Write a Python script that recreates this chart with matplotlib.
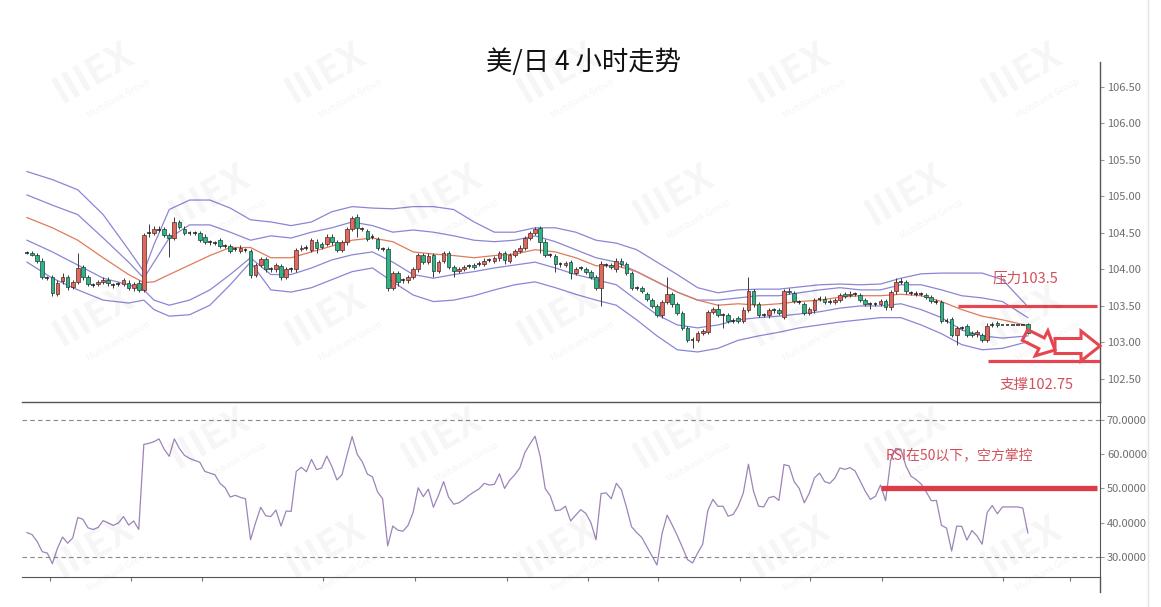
import numpy as np
import matplotlib.pyplot as plt
from matplotlib.patches import FancyArrow
from matplotlib.transforms import Affine2D

plt.rcParams['font.family'] = ['Noto Sans CJK SC', 'DejaVu Sans']

# 美/日 4小时 K线 (开, 收, 高, 低)
opens = [104.23, 104.22, 104.20, 104.12, 103.88, 103.90, 103.66, 103.84, 103.90, 103.76,
         103.83, 104.03, 103.90, 103.79, 103.80, 103.83, 103.86, 103.79, 103.80, 103.80,
         103.82, 103.74, 103.82, 103.72, 104.50, 104.50, 104.54, 104.55, 104.47, 104.43,
         104.65, 104.56, 104.50, 104.50, 104.50, 104.45, 104.37, 104.36, 104.40, 104.32,
         104.32, 104.28, 104.25, 104.27, 104.25, 103.92, 104.06, 104.14, 104.00, 104.00,
         104.05, 103.90, 104.00, 104.00, 104.28, 104.30, 104.27, 104.38, 104.35, 104.35,
         104.45, 104.37, 104.27, 104.37, 104.55, 104.72, 104.55, 104.53, 104.45, 104.42,
         104.28, 104.28, 103.75, 103.95, 103.85, 103.85, 103.90, 104.00, 104.20, 104.10,
         104.20, 103.98, 104.12, 104.22, 104.03, 103.98, 104.01, 104.05, 104.06, 104.08,
         104.08, 104.13, 104.12, 104.15, 104.22, 104.12, 104.20, 104.25, 104.30, 104.43,
         104.50, 104.57, 104.38, 104.20, 104.18, 104.07, 104.06, 104.10, 103.95, 104.02,
         104.00, 103.96, 103.90, 103.75, 104.06, 104.06, 104.00, 104.12, 104.07, 103.95,
         103.75, 103.74, 103.66, 103.58, 103.50, 103.37, 103.55, 103.66, 103.52, 103.40,
         103.20, 103.04, 103.04, 103.13, 103.15, 103.42, 103.46, 103.38, 103.38, 103.30,
         103.33, 103.30, 103.45, 103.70, 103.52, 103.38, 103.37, 103.44, 103.44, 103.35,
         103.71, 103.68, 103.55, 103.53, 103.40, 103.44, 103.60, 103.60, 103.56, 103.56,
         103.58, 103.66, 103.65, 103.66, 103.65, 103.58, 103.52, 103.53, 103.53, 103.57,
         103.48, 103.70, 103.83, 103.83, 103.68, 103.67, 103.66, 103.65, 103.62, 103.56,
         103.55, 103.30, 103.32, 103.10, 103.20, 103.22, 103.13, 103.11, 103.10, 103.03,
         103.24, 103.26, 103.24, 103.24, 103.24, 103.24, 103.24, 103.25]
closes = [104.23, 104.20, 104.12, 103.90, 103.88, 103.68, 103.82, 103.90, 103.76, 103.83,
          104.02, 103.90, 103.80, 103.79, 103.83, 103.86, 103.81, 103.79, 103.80, 103.85,
          103.75, 103.80, 103.72, 104.47, 104.50, 104.55, 104.54, 104.47, 104.43, 104.65,
          104.58, 104.50, 104.50, 104.50, 104.40, 104.38, 104.37, 104.36, 104.32, 104.32,
          104.25, 104.28, 104.30, 104.27, 103.92, 104.06, 104.14, 104.00, 104.00, 104.06,
          103.90, 104.00, 104.00, 104.27, 104.30, 104.30, 104.40, 104.30, 104.31, 104.45,
          104.37, 104.27, 104.37, 104.55, 104.70, 104.57, 104.55, 104.42, 104.45, 104.30,
          104.28, 103.75, 103.95, 103.83, 103.85, 103.90, 104.00, 104.20, 104.10, 104.19,
          103.98, 104.10, 104.22, 104.03, 103.98, 104.01, 104.03, 104.05, 104.04, 104.08,
          104.12, 104.13, 104.16, 104.22, 104.13, 104.20, 104.25, 104.30, 104.43, 104.50,
          104.55, 104.38, 104.20, 104.20, 104.07, 104.07, 104.09, 103.95, 104.00, 104.02,
          103.97, 103.90, 103.75, 104.08, 104.06, 104.03, 104.12, 104.07, 103.95, 103.75,
          103.75, 103.71, 103.60, 103.50, 103.38, 103.55, 103.66, 103.52, 103.40, 103.20,
          103.04, 103.04, 103.13, 103.16, 103.42, 103.46, 103.38, 103.38, 103.30, 103.30,
          103.30, 103.45, 103.70, 103.52, 103.38, 103.38, 103.44, 103.44, 103.41, 103.70,
          103.69, 103.57, 103.55, 103.40, 103.46, 103.58, 103.60, 103.55, 103.56, 103.58,
          103.65, 103.64, 103.67, 103.66, 103.58, 103.53, 103.52, 103.53, 103.57, 103.49,
          103.69, 103.83, 103.83, 103.70, 103.68, 103.67, 103.66, 103.62, 103.57, 103.56,
          103.30, 103.30, 103.10, 103.20, 103.20, 103.10, 103.10, 103.14, 103.03, 103.22,
          103.24, 103.24, 103.24, 103.24, 103.24, 103.24, 103.24, 103.13]
highs = [104.25, 104.25, 104.23, 104.15, 103.91, 103.93, 103.86, 103.95, 103.93, 103.86,
         104.23, 104.06, 103.93, 103.82, 103.86, 103.89, 103.89, 103.82, 103.83, 103.88,
         103.85, 103.83, 103.85, 104.50, 104.62, 104.59, 104.60, 104.58, 104.50, 104.72,
         104.68, 104.59, 104.53, 104.53, 104.53, 104.48, 104.40, 104.39, 104.43, 104.35,
         104.35, 104.31, 104.33, 104.30, 104.28, 104.09, 104.17, 104.17, 104.03, 104.09,
         104.08, 104.03, 104.03, 104.30, 104.33, 104.33, 104.43, 104.41, 104.38, 104.48,
         104.48, 104.40, 104.40, 104.58, 104.73, 104.76, 104.58, 104.56, 104.48, 104.45,
         104.31, 104.31, 103.98, 103.98, 103.88, 103.93, 104.03, 104.23, 104.23, 104.22,
         104.23, 104.13, 104.25, 104.25, 104.06, 104.04, 104.06, 104.08, 104.09, 104.11,
         104.15, 104.16, 104.19, 104.25, 104.25, 104.23, 104.28, 104.33, 104.46, 104.53,
         104.58, 104.60, 104.41, 104.23, 104.21, 104.10, 104.12, 104.13, 104.03, 104.05,
         104.03, 103.99, 103.93, 104.11, 104.09, 104.09, 104.15, 104.15, 104.10, 103.98,
         103.78, 103.77, 103.69, 103.61, 103.53, 103.58, 103.90, 103.69, 103.55, 103.43,
         103.23, 103.07, 103.16, 103.19, 103.45, 103.49, 103.53, 103.41, 103.41, 103.33,
         103.36, 103.48, 103.90, 103.73, 103.55, 103.41, 103.47, 103.47, 103.47, 103.73,
         103.74, 103.71, 103.58, 103.56, 103.49, 103.61, 103.63, 103.63, 103.59, 103.61,
         103.68, 103.69, 103.70, 103.69, 103.68, 103.61, 103.55, 103.56, 103.60, 103.60,
         103.72, 103.88, 103.88, 103.86, 103.71, 103.70, 103.69, 103.68, 103.65, 103.59,
         103.58, 103.33, 103.35, 103.23, 103.23, 103.25, 103.16, 103.17, 103.13, 103.27,
         103.28, 103.29, 103.24, 103.24, 103.24, 103.24, 103.24, 103.27]
lows = [104.21, 104.18, 104.09, 103.87, 103.85, 103.63, 103.63, 103.80, 103.72, 103.73,
        103.80, 103.86, 103.77, 103.76, 103.77, 103.80, 103.78, 103.74, 103.77, 103.77,
        103.72, 103.71, 103.69, 103.69, 104.45, 104.47, 104.51, 104.44, 104.17, 104.40,
        104.55, 104.47, 104.47, 104.47, 104.37, 104.35, 104.34, 104.33, 104.29, 104.29,
        104.22, 104.25, 104.22, 104.24, 103.88, 103.89, 104.03, 103.97, 103.97, 103.97,
        103.85, 103.87, 103.97, 103.97, 104.25, 104.27, 104.24, 104.22, 104.28, 104.32,
        104.34, 104.24, 104.24, 104.34, 104.52, 104.45, 104.52, 104.39, 104.42, 104.27,
        104.25, 103.70, 103.72, 103.78, 103.82, 103.82, 103.87, 103.97, 104.07, 104.07,
        103.90, 103.95, 104.09, 104.00, 103.90, 103.95, 103.98, 104.02, 104.01, 104.05,
        104.05, 104.10, 104.09, 104.12, 104.08, 104.09, 104.17, 104.22, 104.27, 104.40,
        104.47, 104.22, 104.17, 104.17, 103.97, 104.04, 104.03, 103.87, 103.92, 103.99,
        103.94, 103.87, 103.72, 103.50, 104.03, 104.00, 103.97, 104.04, 103.92, 103.72,
        103.72, 103.68, 103.57, 103.47, 103.35, 103.34, 103.52, 103.49, 103.37, 103.17,
        103.01, 102.93, 103.01, 103.10, 103.12, 103.39, 103.35, 103.20, 103.27, 103.27,
        103.27, 103.27, 103.42, 103.49, 103.35, 103.35, 103.34, 103.41, 103.38, 103.32,
        103.66, 103.54, 103.52, 103.37, 103.37, 103.41, 103.57, 103.52, 103.53, 103.53,
        103.55, 103.61, 103.62, 103.63, 103.55, 103.50, 103.46, 103.50, 103.50, 103.44,
        103.45, 103.67, 103.80, 103.67, 103.65, 103.64, 103.63, 103.59, 103.54, 103.53,
        103.27, 103.27, 103.07, 102.97, 103.17, 103.07, 103.07, 103.08, 103.00, 103.00,
        103.21, 103.21, 103.24, 103.24, 103.24, 103.24, 103.24, 103.11]

# RSI, 每根K线一个值
rsi = [37.1, 36.5, 34.5, 31.5, 31.1, 28.0, 32.5, 35.8, 34.0, 35.5,
       41.5, 41.0, 38.5, 38.0, 38.6, 40.6, 39.9, 39.2, 39.9, 41.8,
       39.3, 40.5, 38.0, 62.9, 63.2, 63.7, 64.5, 61.5, 59.4, 64.5,
       61.7, 59.7, 58.8, 58.2, 57.7, 55.0, 54.5, 54.0, 51.5, 50.2,
       47.5, 48.0, 47.4, 47.0, 35.0, 40.0, 44.5, 42.0, 41.8, 43.7,
       39.0, 43.4, 43.3, 55.0, 56.2, 54.9, 58.5, 55.5, 56.0, 59.5,
       56.5, 52.5, 54.0, 59.8, 65.2, 60.0, 57.8, 54.2, 53.4, 49.0,
       47.0, 33.2, 39.0, 37.8, 37.5, 39.2, 43.0, 50.2, 47.6, 49.8,
       44.5, 48.0, 52.0, 47.4, 45.4, 45.8, 46.8, 48.0, 49.0, 49.9,
       51.5, 51.0, 51.2, 54.3, 50.0, 52.4, 54.0, 56.0, 60.5, 63.0,
       65.3, 59.5, 50.0, 47.8, 43.5, 43.7, 44.8, 40.5, 42.2, 43.8,
       42.7, 40.0, 35.0, 48.5, 48.7, 47.0, 51.5, 49.6, 44.5, 38.8,
       37.1, 35.7, 33.0, 30.3, 27.6, 36.8, 42.2, 39.3, 36.2, 32.8,
       29.2, 28.2, 31.1, 33.7, 43.5, 46.8, 44.8, 44.8, 41.9, 42.4,
       44.9, 48.7, 57.1, 49.2, 44.8, 44.6, 47.3, 47.7, 46.5, 57.0,
       56.6, 52.0, 50.0, 45.8, 48.7, 53.1, 54.5, 52.0, 51.5, 53.0,
       56.0, 55.6, 56.1, 55.1, 52.2, 49.2, 46.8, 47.7, 51.0, 46.4,
       58.3, 61.7, 61.5, 56.6, 53.6, 52.6, 51.3, 49.0, 46.4, 46.5,
       39.2, 38.4, 31.7, 39.0, 38.9, 34.9, 37.7, 36.1, 33.7, 43.0,
       45.0, 42.6, 44.6, 44.6, 44.6, 44.6, 44.3, 37.0]

# 布林带 (在这些K线上读取)
band_idx = [0, 5, 10, 15, 20, 23, 25, 28, 32, 36, 40, 44, 48, 52, 56, 60, 64, 68, 72, 76,
            80, 84, 88, 92, 96, 100, 104, 108, 112, 116, 120, 124, 128, 132, 136, 140, 144,
            148, 152, 156, 160, 164, 168, 172, 176, 180, 184, 188, 192, 197]
upper2 = [105.34, 105.23, 105.09, 104.75, 104.27, 103.97, 104.34, 104.82, 104.95, 104.95,
          104.84, 104.68, 104.65, 104.60, 104.65, 104.79, 104.86, 104.84, 104.83, 104.86,
          104.86, 104.82, 104.65, 104.51, 104.51, 104.57, 104.57, 104.51, 104.40, 104.36,
          104.27, 104.10, 103.93, 103.75, 103.68, 103.72, 103.73, 103.73, 103.76, 103.79,
          103.80, 103.79, 103.80, 103.88, 103.94, 103.95, 103.95, 103.95, 103.86, 103.49]
upper1 = [105.02, 104.88, 104.75, 104.43, 104.10, 103.88, 104.10, 104.43, 104.61, 104.61,
          104.51, 104.40, 104.46, 104.43, 104.51, 104.57, 104.65, 104.60, 104.51, 104.54,
          104.51, 104.46, 104.40, 104.38, 104.40, 104.46, 104.38, 104.27, 104.16, 104.10,
          103.97, 103.83, 103.69, 103.58, 103.58, 103.61, 103.64, 103.64, 103.68, 103.72,
          103.75, 103.72, 103.72, 103.79, 103.79, 103.72, 103.64, 103.61, 103.56, 103.34]
middle = [104.71, 104.57, 104.40, 104.16, 103.93, 103.82, 103.83, 103.93, 104.06, 104.19,
          104.30, 104.30, 104.16, 104.16, 104.24, 104.32, 104.40, 104.43, 104.38, 104.24,
          104.21, 104.19, 104.16, 104.19, 104.21, 104.27, 104.24, 104.16, 104.05, 104.05,
          103.97, 103.83, 103.69, 103.58, 103.51, 103.53, 103.51, 103.53, 103.56, 103.58,
          103.62, 103.64, 103.64, 103.66, 103.64, 103.56, 103.45, 103.36, 103.31, 103.23]
lower1 = [104.40, 104.24, 104.06, 103.88, 103.79, 103.72, 103.58, 103.51, 103.58, 103.72,
          103.93, 104.16, 103.93, 103.93, 104.02, 104.13, 104.20, 104.24, 104.10, 103.93,
          103.88, 103.93, 103.97, 104.02, 104.06, 104.10, 104.02, 103.93, 103.86, 103.79,
          103.58, 103.38, 103.24, 103.20, 103.24, 103.31, 103.34, 103.36, 103.39, 103.42,
          103.47, 103.50, 103.50, 103.53, 103.45, 103.34, 103.17, 103.09, 103.06, 103.09]
lower2 = [104.10, 103.88, 103.72, 103.58, 103.54, 103.58, 103.45, 103.36, 103.38, 103.51,
          103.79, 104.10, 103.72, 103.69, 103.75, 103.86, 103.97, 104.02, 103.83, 103.65,
          103.56, 103.58, 103.64, 103.72, 103.79, 103.83, 103.75, 103.66, 103.58, 103.51,
          103.31, 103.09, 102.90, 102.87, 102.92, 103.03, 103.09, 103.14, 103.20, 103.24,
          103.28, 103.31, 103.34, 103.34, 103.24, 103.12, 102.97, 102.90, 102.92, 103.01]

price_ticks = [102.5, 103.0, 103.5, 104.0, 104.5, 105.0, 105.5, 106.0, 106.5]
rsi_ticks = [30, 40, 50, 60, 70]
day_ticks = [4.5, 20.5, 34.4, 58.3, 76.4, 94.5, 110.4, 124.2, 140.4, 154.1, 168.3, 192.1, 205.3]
resistance = 103.5
support = 102.75
rsi_mid = 50

W, H = 1161, 607
fig = plt.figure(figsize=(W / 100, H / 100), dpi=100)
fig.patch.set_facecolor('white')

# 水印 (留在画面内)
for row, yy in enumerate([0.88, 0.68, 0.48, 0.28, 0.10]):
    off = 0.0 if row % 2 == 0 else 0.1
    for xx in np.arange(0.08 + off, 0.93, 0.2):
        fig.text(xx, yy, 'IIIEX', fontsize=28, fontweight='bold', color='#000000', alpha=0.04,
                 rotation=30, ha='center', va='center')
        fig.text(xx + 0.022, yy - 0.042, 'Multibank Group', fontsize=6.5, color='#000000', alpha=0.05,
                 rotation=30, ha='center', va='center')

ax = fig.add_axes([22 / W, 1 - 402 / H, (1100 - 22) / W, 340 / H])
ax2 = fig.add_axes([22 / W, 1 - 577 / H, (1100 - 22) / W, 175 / H])
for a in (ax, ax2):
    a.patch.set_alpha(0)

o = np.array(opens)
c = np.array(closes)
hi = np.array(highs)
lo = np.array(lows)
idx = np.arange(len(c))
up = c > o
dn = c < o
flat = c == o

# 布林带
ax.plot(band_idx, upper2, color='#8a86d6', lw=0.9)
ax.plot(band_idx, upper1, color='#8a86d6', lw=0.9)
ax.plot(band_idx, lower1, color='#8a86d6', lw=0.9)
ax.plot(band_idx, lower2, color='#8a86d6', lw=0.9)
ax.plot(band_idx, middle, color='#e07a5a', lw=0.9)

# K线
ax.vlines(idx, lo, hi, color='#3a3a3a', lw=0.7, zorder=3)
ax.bar(idx[up], c[up] - o[up], bottom=o[up], width=0.72, color='#e2685c',
       edgecolor='#4a2a2a', lw=0.5, zorder=4)
ax.bar(idx[dn], c[dn] - o[dn], bottom=o[dn], width=0.72, color='#2fb487',
       edgecolor='#1f3f33', lw=0.5, zorder=4)
ax.hlines(c[flat], idx[flat] - 0.38, idx[flat] + 0.38, color='#222222', lw=1.1, zorder=4)

# 压力 / 支撑
red = '#e5464f'
ax.hlines(resistance, 183.3, 210.6, color=red, lw=2.3, zorder=5)
ax.hlines(support, 189.2, 211.2, color=red, lw=2.3, zorder=5)
ax.text(190.0, 103.88, '压力103.5', color='#d2505a', fontsize=10.5, ha='left', va='center')
ax.text(191.5, 102.42, '支撑102.75', color='#d2505a', fontsize=10.5, ha='left', va='center')

ax.set_xlim(-0.98, 211.2)
ax.set_ylim(102.185, 106.84)
ax.set_yticks(price_ticks)
ax.set_yticklabels([f'{v:.2f}' for v in price_ticks])
ax.yaxis.tick_right()
ax.set_xticks([])
for s in ('top', 'left'):
    ax.spines[s].set_visible(False)
ax.spines['right'].set_color('#555555')
ax.spines['bottom'].set_color('#555555')
ax.spines['right'].set_linewidth(1.0)
ax.spines['bottom'].set_linewidth(1.0)
ax.tick_params(axis='y', colors='#9a9a9a', labelcolor='#6e6e6e', labelsize=8, length=3, pad=2)

# RSI
ax2.plot(idx, rsi, color='#9d84b8', lw=0.9)
for lvl in (70, 30):
    ax2.axhline(lvl, color='#888888', lw=0.8, ls=(0, (4, 3)))
ax2.hlines(rsi_mid, 168.1, 210.6, color='#dc3c46', lw=3.8, zorder=5)
ax2.text(169.1, 59.7, 'RSI在50以下，空方掌控', color='#d2505a', fontsize=10, ha='left', va='center')
ax2.set_xlim(-0.98, 211.2)
ax2.set_ylim(24.1, 75.3)
ax2.set_yticks(rsi_ticks)
ax2.set_yticklabels([f'{v:.4f}' for v in rsi_ticks])
ax2.yaxis.tick_right()
ax2.set_xticks(day_ticks)
ax2.set_xticklabels([])
ax2.spines['top'].set_visible(False)
ax2.spines['left'].set_visible(False)
ax2.spines['right'].set_color('#555555')
ax2.spines['bottom'].set_color('#555555')
ax2.tick_params(axis='y', colors='#9a9a9a', labelcolor='#6e6e6e', labelsize=8, length=3, pad=2)
ax2.tick_params(axis='x', colors='#777777', length=3)

# 空心箭头 (像素坐标, 原点左上)
pix = Affine2D().scale(1, -1).translate(0, H)
fig.patches.append(FancyArrow(1025, 335, 30, 15, width=12, head_width=28, head_length=15,
                              length_includes_head=True, fill=False, ec=red, lw=2.2,
                              transform=pix, figure=fig))
fig.patches.append(FancyArrow(1055, 346, 45, 0, width=15, head_width=30, head_length=19,
                              length_includes_head=True, fill=False, ec=red, lw=2.2,
                              transform=pix, figure=fig))

# 右侧边框
fig.add_artist(plt.Line2D([1100 / W, 1100 / W], [1 - 592 / H, 1 - 577 / H], color='#555555', lw=1.0))
fig.add_artist(plt.Line2D([1148 / W, 1148 / W], [0.0, 1.0], color='#e2e2e2', lw=1.0))

fig.text(583 / W, 1 - 62 / H, '美/日 4 小时走势', fontsize=19, color='#111111', ha='center', va='center')

fig.savefig('out.png', dpi=100)
